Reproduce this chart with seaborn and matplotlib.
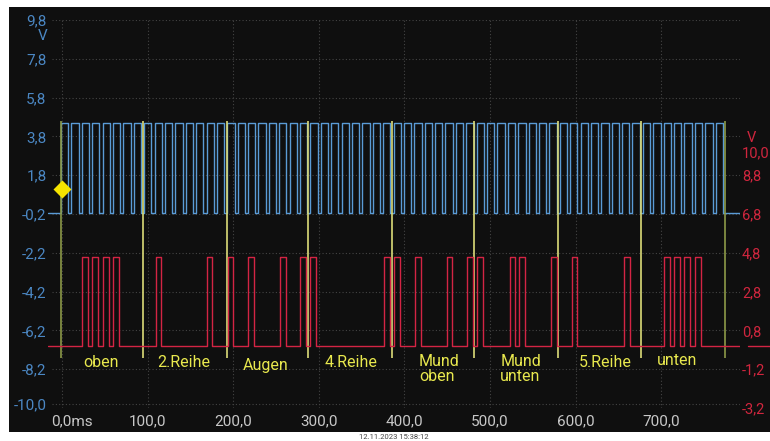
import matplotlib
matplotlib.use("Agg")
import matplotlib.pyplot as plt
import pandas as pd
import seaborn as sns
from matplotlib.patches import Rectangle
from matplotlib.transforms import ScaledTranslation

# ---------------- data ----------------
x_ticks = [0, 100, 200, 300, 400, 500, 600, 700]
x_tick_labels = ["0,0ms", "100,0", "200,0", "300,0", "400,0", "500,0", "600,0", "700,0"]

left_ticks = [9.8, 7.8, 5.8, 3.8, 1.8, -0.2, -2.2, -4.2, -6.2, -8.2, -10.0]
left_tick_labels = ["9,8", "7,8", "5,8", "3,8", "1,8", "-0,2", "-2,2", "-4,2", "-6,2", "-8,2", "-10,0"]

right_ticks = [10.0, 8.8, 6.8, 4.8, 2.8, 0.8, -1.2, -3.2]
right_tick_labels = ["10,0", "8,8", "6,8", "4,8", "2,8", "0,8", "-1,2", "-3,2"]

# channel A (blue, clock) in V, edges in ms
blue_low = -0.15
blue_high = 4.5
blue_rise = [-1.2, 10.9, 23.1, 35.2, 47.4, 59.5, 71.6, 83.8,
             95.9, 108.1, 120.2, 132.3, 144.5, 156.6, 168.8, 180.9,
             193.0, 205.2, 217.3, 229.5, 241.6, 253.7, 265.9, 278.0,
             290.2, 302.3, 314.4, 326.6, 338.7, 350.9, 363.0, 375.1,
             387.3, 399.4, 411.6, 423.7, 435.8, 448.0, 460.1, 472.3,
             484.4, 496.5, 508.7, 520.8, 533.0, 545.1, 557.2, 569.4,
             581.5, 593.7, 605.8, 617.9, 630.1, 642.2, 654.4, 666.5,
             678.6, 690.8, 702.9, 715.1, 727.2, 739.3, 751.5, 763.6]
blue_fall = [7.3, 19.4, 31.6, 43.7, 55.9, 68.0, 80.1, 92.3,
             104.4, 116.6, 128.7, 140.8, 153.0, 165.1, 177.3, 189.4,
             201.5, 213.7, 225.8, 238.0, 250.1, 262.2, 274.4, 286.5,
             298.7, 310.8, 322.9, 335.1, 347.2, 359.4, 371.5, 383.6,
             395.8, 407.9, 420.1, 432.2, 444.3, 456.5, 468.6, 480.8,
             492.9, 505.0, 517.2, 529.3, 541.5, 553.6, 565.7, 577.9,
             590.0, 602.2, 614.3, 626.4, 638.6, 650.7, 662.9, 675.0,
             687.1, 699.3, 711.4, 723.6, 735.7, 747.8, 760.0, 772.1]
blue_span = [-16.4, 792.0]

# channel B (red, data) in V (right axis), edges in ms
red_low = 0.0
red_high = 4.6
red_rise = [23.0, 35.4, 48.2, 59.9, 109.5, 169.0, 193.9, 217.6, 254.7, 278.0,
            289.7, 376.2, 388.2, 412.4, 449.4, 473.7, 484.5, 523.4, 534.2, 571.6,
            595.4, 656.9, 703.6, 715.3, 727.0, 739.5]
red_fall = [30.7, 42.4, 54.9, 66.9, 115.7, 174.9, 200.1, 224.6, 261.3, 285.0,
            296.4, 383.2, 394.9, 419.4, 455.6, 480.5, 492.2, 529.2, 540.9, 577.9,
            601.6, 663.6, 710.3, 722.0, 733.6, 746.5]
red_span = [-16.4, 796.0]

# row markers (ms) and annotations
row_markers = [-1.2, 94.6, 192.8, 287.4, 385.5, 481.3, 579.4, 676.4, 774.5]
row_labels = ["oben", "2.Reihe", "Augen", "4.Reihe", "Mund\noben", "Mund\nunten", "5.Reihe", "unten"]
row_label_t = [24.5, 111.0, 211.4, 307.0, 417.0, 512.0, 604.0, 695.0]
row_label_v = [-7.85, -7.85, -8.0, -7.85, -8.2, -8.2, -7.85, -7.75]

trigger_t = -0.4
trigger_v = 1.1

timestamp = "12.11.2023 15:38:12"

# ---------------- styling ----------------
sns.set_theme(style="dark")
plt.rcParams["font.family"] = ["Roboto", "DejaVu Sans"]

BG = "#0f0f0f"
BLUE = "#5a9bd6"
BLUE_TXT = "#4b87c3"
RED = "#d42444"
RED_TXT = "#d0263e"
YEL = "#e8e84e"
GRID = "#444444"

W, H = 770, 441
fig = plt.figure(figsize=(W / 100, H / 100), dpi=100, facecolor="white")
fig.patches.append(Rectangle((9 / W, (H - 432) / H), 1 - 9 / W, (432 - 7) / H,
                             transform=fig.transFigure, facecolor=BG,
                             edgecolor="none", zorder=-10))

ax_left_px, ax_right_px = 48, 740
ax_top_px, ax_bot_px = 20, 408
ax = fig.add_axes([ax_left_px / W, (H - ax_bot_px) / H,
                   (ax_right_px - ax_left_px) / W, (ax_bot_px - ax_top_px) / H])
ax.set_facecolor("none")
ax2 = ax.twinx()


def square_wave(span, rise, fall, low, high):
    ts, vs = [span[0]], [low]
    for r, f in zip(rise, fall):
        ts += [r, r, f, f]
        vs += [low, high, high, low]
    ts.append(span[1])
    vs.append(low)
    return pd.DataFrame({"t": ts, "v": vs})


blue_df = square_wave(blue_span, blue_rise, blue_fall, blue_low, blue_high)
red_df = square_wave(red_span, red_rise, red_fall, red_low, red_high)

sns.lineplot(data=blue_df, x="t", y="v", estimator=None, sort=False,
             color=BLUE, lw=1.0, ax=ax, legend=False, zorder=3)
sns.lineplot(data=red_df, x="t", y="v", estimator=None, sort=False,
             color=RED, lw=1.0, ax=ax2, legend=False, zorder=3)

xlim = (-16.4, 792.1)
ax.set_xlim(*xlim)
ax.set_ylim(-10.2, 9.8)
ax2.set_ylim(-3.2, 16.8)

# grid
for t in x_ticks:
    ax.axvline(t, color=GRID, lw=0.8, ls=(0, (1, 2)), zorder=1)
for v in left_ticks:
    ax.axhline(v, xmin=(52 - ax_left_px) / (ax_right_px - ax_left_px),
               color=GRID, lw=0.8, ls=(0, (1, 2)), zorder=1)

# row markers
ax.vlines(row_markers[1:-1], -7.6, 4.6, color="#dcdc78", lw=1.2, zorder=5)
ax.vlines([row_markers[0], row_markers[-1]], -7.6, 4.6, color="#8c9a48", lw=1.2, zorder=5)

for lab, t, v in zip(row_labels, row_label_t, row_label_v):
    ax.text(t, v, lab, color=YEL, fontsize=11.5, ha="left", va="center",
            linespacing=1.0, zorder=6)

ax.plot([trigger_t], [trigger_v], marker="D", ms=9, color="#f5e400",
        mec="none", clip_on=False, zorder=10)

# channel marker on the right edge (red ground)
ax2.axhline(red_low, xmin=(748 - ax_left_px) / (ax_right_px - ax_left_px),
            xmax=(770 - ax_left_px) / (ax_right_px - ax_left_px),
            color=RED, lw=1.0, clip_on=False)

# ticks
ax.set_xticks(x_ticks)
ax.set_xticklabels(x_tick_labels)
ax.set_yticks(left_ticks)
ax.set_yticklabels(left_tick_labels)
ax2.set_yticks(right_ticks)
ax2.set_yticklabels(right_tick_labels)
ax.tick_params(axis="x", length=0, pad=4.5, labelsize=11, labelcolor="#c8c8c8")
ax.tick_params(axis="y", length=0, pad=1, labelsize=11, labelcolor=BLUE_TXT)
ax2.tick_params(axis="y", length=0, pad=1.5, labelsize=10.5, labelcolor=RED_TXT)
ax.grid(False)
ax2.grid(False)
for a in (ax, ax2):
    a.set_xlabel("")
    a.set_ylabel("")
    for s in a.spines.values():
        s.set_visible(False)

# shift "0,0ms" so that "0,0" is centred on its grid line
first = ax.get_xticklabels()[0]
first.set_transform(first.get_transform() + ScaledTranslation(9.5 / 100, 0, fig.dpi_scale_trans))

fig.text(43 / W, 1 - 36 / H, "V", color=BLUE_TXT, fontsize=11, ha="center", va="center")
fig.text(751 / W, 1 - 138 / H, "V", color=RED_TXT, fontsize=10.5, ha="center", va="center")
fig.text(394 / W, (H - 437) / H, timestamp, color="#444444", fontsize=5.5,
         ha="center", va="center")

fig.savefig("out.png", dpi=100, facecolor="white")
